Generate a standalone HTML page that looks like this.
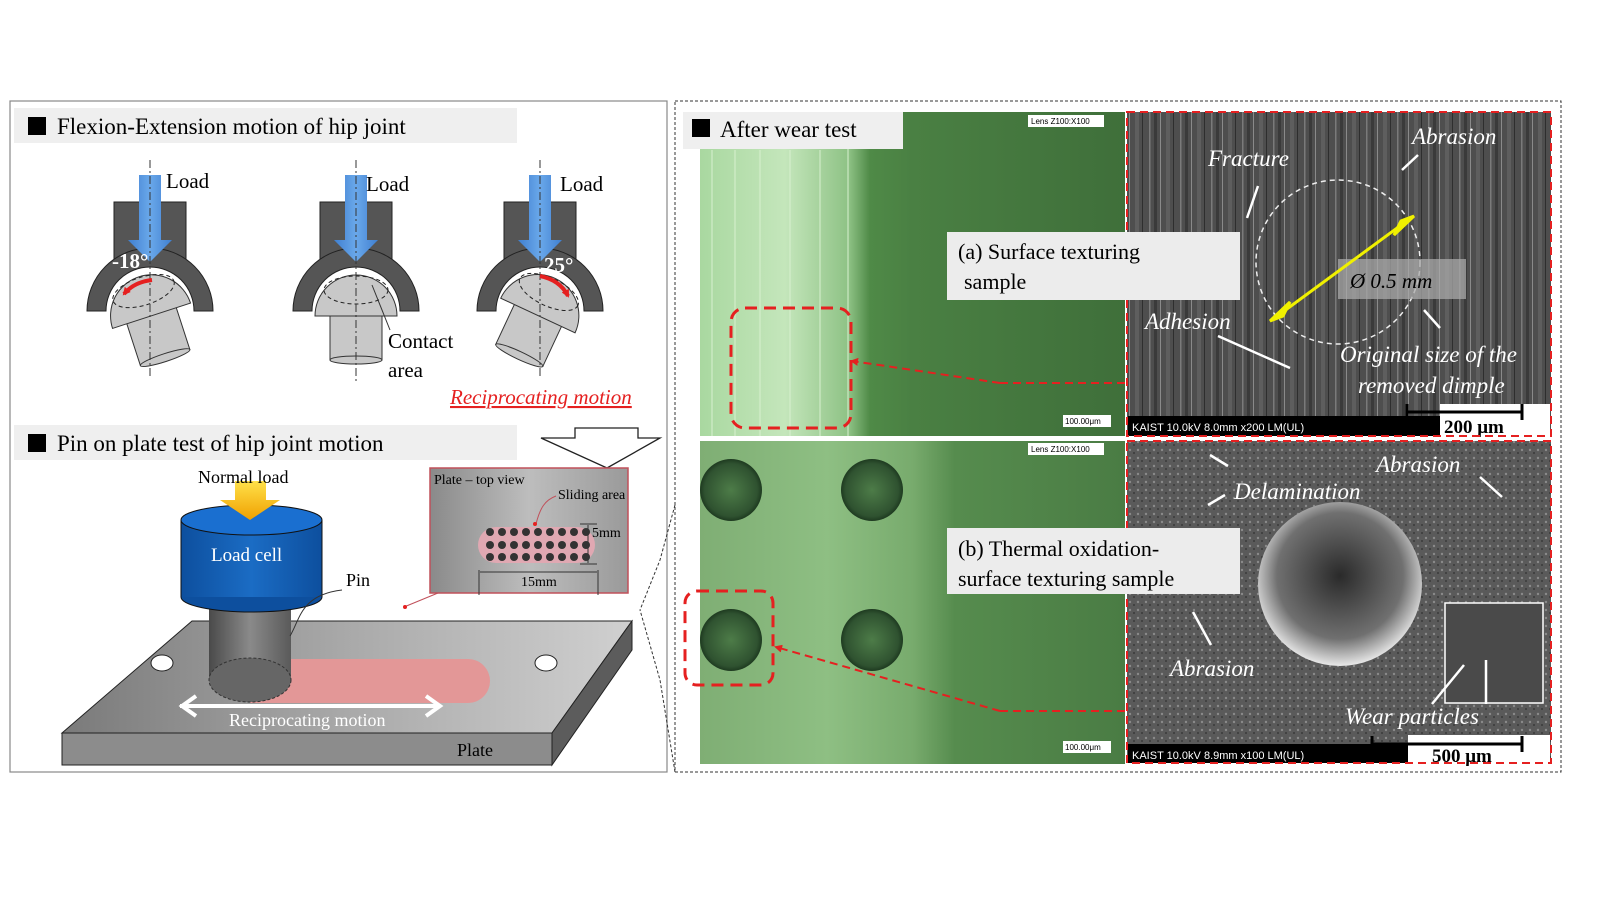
<!DOCTYPE html>
<html><head><meta charset="utf-8"><style>
html,body{margin:0;padding:0;background:#fff;}
svg{display:block;font-family:"Liberation Serif",serif;}
</style></head><body>
<svg width="1604" height="902" viewBox="0 0 1604 902" xmlns="http://www.w3.org/2000/svg">
<defs>
<linearGradient id="blueArr" x1="0" x2="1"><stop offset="0" stop-color="#3f7fd0"/><stop offset="0.5" stop-color="#6aa8ea"/><stop offset="1" stop-color="#3f7fd0"/></linearGradient>
<linearGradient id="plateTop" x1="0" x2="1"><stop offset="0" stop-color="#7a7a7a"/><stop offset="0.5" stop-color="#a9a9a9"/><stop offset="1" stop-color="#d0d0d0"/></linearGradient>
<linearGradient id="inset" x1="0" x2="1"><stop offset="0" stop-color="#8a8a8a"/><stop offset="0.5" stop-color="#bdbdbd"/><stop offset="1" stop-color="#9a9a9a"/></linearGradient>
<linearGradient id="pin" x1="0" x2="1"><stop offset="0" stop-color="#4a4a4a"/><stop offset="0.5" stop-color="#8a8a8a"/><stop offset="1" stop-color="#5a5a5a"/></linearGradient>
<linearGradient id="cell" x1="0" x2="1"><stop offset="0" stop-color="#0d4f9e"/><stop offset="0.5" stop-color="#1b6cc4"/><stop offset="1" stop-color="#0d4f9e"/></linearGradient>
<linearGradient id="yel" x1="0" x2="0" y1="0" y2="1"><stop offset="0" stop-color="#ffe14a"/><stop offset="1" stop-color="#f0a000"/></linearGradient>
<linearGradient id="g1" x1="0" x2="1"><stop offset="0" stop-color="#a9d8a0"/><stop offset="0.2" stop-color="#c4e6bb"/><stop offset="0.35" stop-color="#8ec285"/><stop offset="0.4" stop-color="#4f8a47"/><stop offset="0.5" stop-color="#4a8043"/><stop offset="1" stop-color="#3f6f3a"/></linearGradient>
<linearGradient id="g2" x1="0" x2="1"><stop offset="0" stop-color="#7fae74"/><stop offset="0.3" stop-color="#8ebf83"/><stop offset="0.5" stop-color="#78ab6d"/><stop offset="0.6" stop-color="#568c4e"/><stop offset="1" stop-color="#4a7c44"/></linearGradient>
<pattern id="stripes" width="31" height="10" patternUnits="userSpaceOnUse"><rect width="31" height="10" fill="#4e4e4e"/><rect x="2" width="1.5" height="10" fill="#7a7a7a"/><rect x="7" width="3" height="10" fill="#3a3a3a"/><rect x="13" width="1" height="10" fill="#8a8a8a"/><rect x="19" width="4" height="10" fill="#5e5e5e"/><rect x="26" width="1" height="10" fill="#2e2e2e"/></pattern>
<pattern id="rough" width="8" height="8" patternUnits="userSpaceOnUse"><rect width="8" height="8" fill="#5a5a5a"/><circle cx="2" cy="2" r="1.2" fill="#8a8a8a"/><circle cx="6" cy="5" r="1" fill="#3a3a3a"/></pattern>
<radialGradient id="crater" cx="0.5" cy="0.45" r="0.55"><stop offset="0" stop-color="#2a2a2a"/><stop offset="0.7" stop-color="#707070"/><stop offset="1" stop-color="#e8e8e8"/></radialGradient>
<radialGradient id="dimple" cx="0.5" cy="0.5" r="0.5"><stop offset="0" stop-color="#4d7c48"/><stop offset="0.85" stop-color="#2f5230"/><stop offset="1" stop-color="#1e3a20"/></radialGradient>
<marker id="rh" markerWidth="8" markerHeight="8" refX="6" refY="4" orient="auto" markerUnits="userSpaceOnUse"><path d="M0,0 L8,4 L0,8 z" fill="#e52020"/></marker>
<g id="housing">
  <rect x="320" y="202" width="72" height="60" fill="#555" stroke="#222"/>
  <path d="M293,311 A63,63 0 0 1 419,311 L400,311 A44,44 0 0 0 312,311 Z" fill="#555" stroke="#222"/>
</g>
<g id="ball">
  <rect x="330" y="310" width="52" height="50" fill="#c8c8c8" stroke="#333"/>
  <ellipse cx="356" cy="360" rx="26" ry="4" fill="#c8c8c8" stroke="#333"/>
  <path d="M315,316 A41,41 0 0 1 397,316 Z" fill="#c8c8c8" stroke="#333"/>
  <ellipse cx="356" cy="290" rx="32" ry="14" fill="none" stroke="#222" stroke-dasharray="4,3"/>
</g>
<g id="loadArr">
  <path d="M345,175 L367,175 L367,240 L378,240 L356,262 L334,240 L345,240 Z" fill="url(#blueArr)"/>
</g>
</defs>

<!-- LEFT PANEL -->
<rect x="10" y="101" width="657" height="671" fill="#fff" stroke="#888" stroke-width="1.2"/>
<rect x="14" y="108" width="503" height="35" fill="#efefef"/>
<rect x="28" y="117" width="18" height="18" fill="#000"/>
<text x="57" y="134" font-size="23">Flexion-Extension motion of hip joint</text>

<g>
  <use href="#housing"/>
  <use href="#ball"/>
  <use href="#loadArr"/>
  <line x1="356" y1="160" x2="356" y2="382" stroke="#333" stroke-dasharray="8,3,2,3"/>
  <text x="366" y="191" font-size="21">Load</text>
  <line x1="372" y1="285" x2="390" y2="330" stroke="#333"/>
  <text x="388" y="348" font-size="21">Contact</text>
  <text x="388" y="377" font-size="21">area</text>
</g>
<g transform="translate(-206,0)">
  <use href="#housing"/>
  <g transform="rotate(-18 356 311)"><use href="#ball"/></g>
  <use href="#loadArr"/>
  <line x1="356" y1="160" x2="356" y2="378" stroke="#333" stroke-dasharray="8,3,2,3"/>
  <text x="372" y="188" font-size="21">Load</text>
  <text x="318" y="268" font-size="21" fill="#fff" font-weight="bold">-18°</text>
  <path d="M358,280 Q340,282 330,294" fill="none" stroke="#e52020" stroke-width="4" marker-end="url(#rh)"/>
</g>
<g transform="translate(184,0)">
  <use href="#housing"/>
  <g transform="rotate(25 356 311)"><use href="#ball"/></g>
  <use href="#loadArr"/>
  <line x1="356" y1="160" x2="356" y2="378" stroke="#333" stroke-dasharray="8,3,2,3"/>
  <text x="376" y="191" font-size="21">Load</text>
  <text x="360" y="272" font-size="21" fill="#fff" font-weight="bold">25°</text>
  <path d="M356,276 Q376,280 384,296" fill="none" stroke="#e52020" stroke-width="4" marker-end="url(#rh)"/>
</g>

<text x="450" y="404" font-size="21" fill="#e52020" font-style="italic" text-decoration="underline">Reciprocating motion</text>

<rect x="14" y="425" width="503" height="35" fill="#efefef"/>
<rect x="28" y="434" width="18" height="18" fill="#000"/>
<text x="57" y="451" font-size="23">Pin on plate test of hip joint motion</text>
<path d="M575,428 L638,428 L638,438 L660,438 L607,468 L541,438 L575,438 Z" fill="#fff" stroke="#222" stroke-width="1.3"/>

<!-- plate -->
<polygon points="62,733 192,621 632,621 552,733" fill="url(#plateTop)" stroke="#222"/>
<polygon points="62,733 552,733 552,765 62,765" fill="#8c8c8c" stroke="#222"/>
<polygon points="552,733 632,621 632,650 552,765" fill="#5c5c5c" stroke="#222"/>
<ellipse cx="162" cy="663" rx="11" ry="8" fill="#fff" stroke="#222"/>
<ellipse cx="546" cy="663" rx="11" ry="8" fill="#fff" stroke="#222"/>
<path d="M250,659 L468,659 A22,22 0 0 1 468,703 L250,703 Z" fill="#e39797"/>
<rect x="209" y="590" width="82" height="90" fill="url(#pin)"/>
<ellipse cx="250" cy="680" rx="41" ry="22" fill="#666" stroke="#333" stroke-dasharray="3,2"/>
<ellipse cx="251.5" cy="597" rx="70.5" ry="15" fill="#0d4f9e" stroke="#111"/>
<rect x="181" y="520" width="141" height="77" fill="url(#cell)"/>
<line x1="181" y1="520" x2="181" y2="597" stroke="#111"/>
<line x1="322" y1="520" x2="322" y2="597" stroke="#111"/>
<ellipse cx="251.5" cy="520" rx="70.5" ry="15" fill="#1a6fd0" stroke="#111"/>
<path d="M235,481 L266,481 L266,500 L280,500 L250,520 L220,500 L235,500 Z" fill="url(#yel)"/>
<text x="198" y="483" font-size="18">Normal load</text>
<text x="211" y="561" font-size="19" fill="#fff">Load cell</text>
<path d="M290,636 C300,620 300,595 342,590" fill="none" stroke="#333"/>
<text x="346" y="586" font-size="18">Pin</text>
<path d="M180,706 L440,706" stroke="#fff" stroke-width="4"/>
<path d="M196,696 L182,706 L196,716" fill="none" stroke="#fff" stroke-width="4"/>
<path d="M426,696 L440,706 L426,716" fill="none" stroke="#fff" stroke-width="4"/>
<text x="229" y="726" font-size="18" fill="#fff">Reciprocating motion</text>
<text x="457" y="756" font-size="18">Plate</text>
<rect x="430" y="468" width="198" height="125" fill="url(#inset)" stroke="#c0505a" stroke-width="1.5"/>
<line x1="438" y1="593" x2="404" y2="607" stroke="#c0505a"/>
<circle cx="405" cy="607" r="2" fill="#e52020"/>
<text x="434" y="484" font-size="14">Plate – top view</text>
<text x="558" y="499" font-size="14">Sliding area</text>
<path d="M536,524 C540,508 545,500 556,496" fill="none" stroke="#c0505a"/>
<circle cx="535" cy="524" r="2" fill="#e52020"/>
<rect x="478" y="527" width="117" height="36" rx="18" fill="#e0a8b2"/>
<g fill="#333">
<circle cx="490" cy="532" r="4"/><circle cx="502" cy="532" r="4"/><circle cx="514" cy="532" r="4"/><circle cx="526" cy="532" r="4"/><circle cx="538" cy="532" r="4"/><circle cx="550" cy="532" r="4"/><circle cx="562" cy="532" r="4"/><circle cx="574" cy="532" r="4"/><circle cx="586" cy="532" r="4"/>
<circle cx="490" cy="545" r="4"/><circle cx="502" cy="545" r="4"/><circle cx="514" cy="545" r="4"/><circle cx="526" cy="545" r="4"/><circle cx="538" cy="545" r="4"/><circle cx="550" cy="545" r="4"/><circle cx="562" cy="545" r="4"/><circle cx="574" cy="545" r="4"/><circle cx="586" cy="545" r="4"/>
<circle cx="490" cy="557" r="4"/><circle cx="502" cy="557" r="4"/><circle cx="514" cy="557" r="4"/><circle cx="526" cy="557" r="4"/><circle cx="538" cy="557" r="4"/><circle cx="550" cy="557" r="4"/><circle cx="562" cy="557" r="4"/><circle cx="574" cy="557" r="4"/><circle cx="586" cy="557" r="4"/>
</g>
<line x1="580" y1="524" x2="597" y2="524" stroke="#333"/><line x1="580" y1="564" x2="597" y2="564" stroke="#333"/>
<line x1="588" y1="525" x2="588" y2="563" stroke="#333"/>
<text x="592" y="537" font-size="14">5mm</text>
<line x1="479" y1="570" x2="479" y2="595" stroke="#333"/><line x1="598" y1="570" x2="598" y2="595" stroke="#333"/>
<line x1="480" y1="572" x2="597" y2="572" stroke="#333"/>
<text x="521" y="586" font-size="14">15mm</text>

<!-- RIGHT PANEL -->
<rect x="675" y="101" width="886" height="671" fill="#fff" stroke="#333" stroke-dasharray="3,2"/>
<rect x="700" y="112" width="425" height="324" fill="url(#g1)"/>
<g stroke="#d8f0d0" stroke-width="2" opacity="0.5">
<line x1="712" y1="150" x2="712" y2="436"/><line x1="735" y1="150" x2="735" y2="436"/><line x1="760" y1="150" x2="760" y2="436"/><line x1="790" y1="150" x2="790" y2="436"/><line x1="820" y1="150" x2="820" y2="436"/><line x1="848" y1="112" x2="848" y2="436"/>
</g>
<rect x="700" y="441" width="425" height="323" fill="url(#g2)"/>
<circle cx="731" cy="490" r="31" fill="url(#dimple)"/>
<circle cx="872" cy="490" r="31" fill="url(#dimple)"/>
<circle cx="731" cy="640" r="31" fill="url(#dimple)"/>
<circle cx="872" cy="640" r="31" fill="url(#dimple)"/>

<rect x="1127" y="112" width="424" height="324" fill="url(#stripes)"/>
<rect x="1128" y="416" width="312" height="20" fill="#000"/>
<text x="1132" y="431" font-family="Liberation Sans, sans-serif" font-size="11" fill="#fff">KAIST 10.0kV 8.0mm x200 LM(UL)</text>
<rect x="1440" y="404" width="110" height="32" fill="#fff"/>
<path d="M1407,404 L1407,420 M1407,412 L1522,412 M1522,404 L1522,420" stroke="#000" stroke-width="3" fill="none"/>
<text x="1444" y="433" font-size="19" font-weight="bold">200 μm</text>
<rect x="1127" y="112" width="424" height="324" fill="none" stroke="#e52020" stroke-width="2" stroke-dasharray="8,5"/>
<circle cx="1338" cy="262" r="82" fill="none" stroke="#eee" stroke-width="1.5" stroke-dasharray="5,4"/>
<rect x="1338" y="259" width="128" height="40" fill="#aaa" opacity="0.75"/>
<text x="1350" y="288" font-size="21" font-style="italic">Ø 0.5 mm</text>
<line x1="1276" y1="317" x2="1408" y2="220" stroke="#f0f000" stroke-width="3"/>
<path d="M1270,321 L1290,302 L1283,316 Z M1414,216 L1394,235 L1401,221 Z" fill="#f0f000" stroke="#f0f000" stroke-width="3"/>
<g fill="#fff" font-style="italic" font-size="23">
<text x="1208" y="166">Fracture</text>
<text x="1412" y="144">Abrasion</text>
<text x="1145" y="329">Adhesion</text>
<text x="1340" y="362">Original size of the</text>
<text x="1358" y="393">removed dimple</text>
</g>
<g stroke="#fff" stroke-width="2.5" fill="none">
<line x1="1258" y1="186" x2="1247" y2="218"/>
<line x1="1418" y1="155" x2="1402" y2="170"/>
<line x1="1218" y1="336" x2="1290" y2="368"/>
<line x1="1440" y1="328" x2="1424" y2="310"/>
</g>
<line x1="1125" y1="383" x2="1000" y2="383" stroke="#e52020" stroke-width="2" stroke-dasharray="8,5"/>
<path d="M1000,383 L852,361" stroke="#e52020" stroke-width="2" stroke-dasharray="8,5" marker-end="url(#rh)"/>
<rect x="731" y="308" width="120" height="120" rx="14" fill="none" stroke="#e52020" stroke-width="3" stroke-dasharray="12,7"/>

<rect x="1127" y="441" width="424" height="322" fill="url(#rough)"/>
<circle cx="1340" cy="584" r="82" fill="url(#crater)"/>
<rect x="1445" y="603" width="98" height="100" fill="#4a4a4a" stroke="#fff" stroke-width="1.5"/>
<rect x="1128" y="744" width="312" height="19" fill="#000"/>
<text x="1132" y="759" font-family="Liberation Sans, sans-serif" font-size="11" fill="#fff">KAIST 10.0kV 8.9mm x100 LM(UL)</text>
<rect x="1408" y="735" width="142" height="28" fill="#fff"/>
<path d="M1372,736 L1372,752 M1372,744 L1522,744 M1522,736 L1522,752" stroke="#000" stroke-width="3" fill="none"/>
<text x="1432" y="762" font-size="19" font-weight="bold">500 μm</text>
<rect x="1127" y="441" width="424" height="322" fill="none" stroke="#e52020" stroke-width="2" stroke-dasharray="8,5"/>
<g fill="#fff" font-style="italic" font-size="23">
<text x="1376" y="472">Abrasion</text>
<text x="1234" y="499">Delamination</text>
<text x="1170" y="676">Abrasion</text>
<text x="1345" y="724">Wear particles</text>
</g>
<g stroke="#fff" stroke-width="2.5" fill="none">
<line x1="1228" y1="466" x2="1210" y2="455"/>
<line x1="1225" y1="495" x2="1208" y2="505"/>
<line x1="1480" y1="477" x2="1502" y2="497"/>
<line x1="1211" y1="645" x2="1193" y2="612"/>
<line x1="1432" y1="704" x2="1464" y2="665"/>
<line x1="1486" y1="704" x2="1486" y2="660"/>
</g>
<line x1="1125" y1="711" x2="1000" y2="711" stroke="#e52020" stroke-width="2" stroke-dasharray="8,5"/>
<path d="M1000,711 L776,647" stroke="#e52020" stroke-width="2" stroke-dasharray="8,5" marker-end="url(#rh)"/>
<rect x="685" y="591" width="88" height="94" rx="12" fill="none" stroke="#e52020" stroke-width="3" stroke-dasharray="12,7"/>

<rect x="683" y="112" width="220" height="37" fill="#efefef"/>
<rect x="692" y="119" width="18" height="18" fill="#000"/>
<text x="720" y="137" font-size="23">After wear test</text>
<rect x="947" y="232" width="293" height="68" fill="#ececec"/>
<text x="958" y="259" font-size="22">(a) Surface texturing</text>
<text x="964" y="289" font-size="22">sample</text>
<rect x="947" y="528" width="293" height="66" fill="#ececec"/>
<text x="958" y="556" font-size="22">(b) Thermal oxidation-</text>
<text x="958" y="586" font-size="22">surface texturing sample</text>
<g font-family="Liberation Sans, sans-serif" font-size="8">
<rect x="1028" y="115" width="76" height="12" fill="#fff"/><text x="1031" y="124">Lens Z100:X100</text>
<rect x="1028" y="443" width="76" height="12" fill="#fff"/><text x="1031" y="452">Lens Z100:X100</text>
<rect x="1063" y="415" width="48" height="12" fill="#fff"/><text x="1065" y="424">100.00μm</text>
<rect x="1063" y="741" width="48" height="12" fill="#fff"/><text x="1065" y="750">100.00μm</text>
</g>
<path d="M675,505 L660,560 L640,610" fill="none" stroke="#333" stroke-dasharray="3,2"/>
<path d="M675,772 L660,680 L640,610" fill="none" stroke="#333" stroke-dasharray="3,2"/>
</svg>
</body></html>
